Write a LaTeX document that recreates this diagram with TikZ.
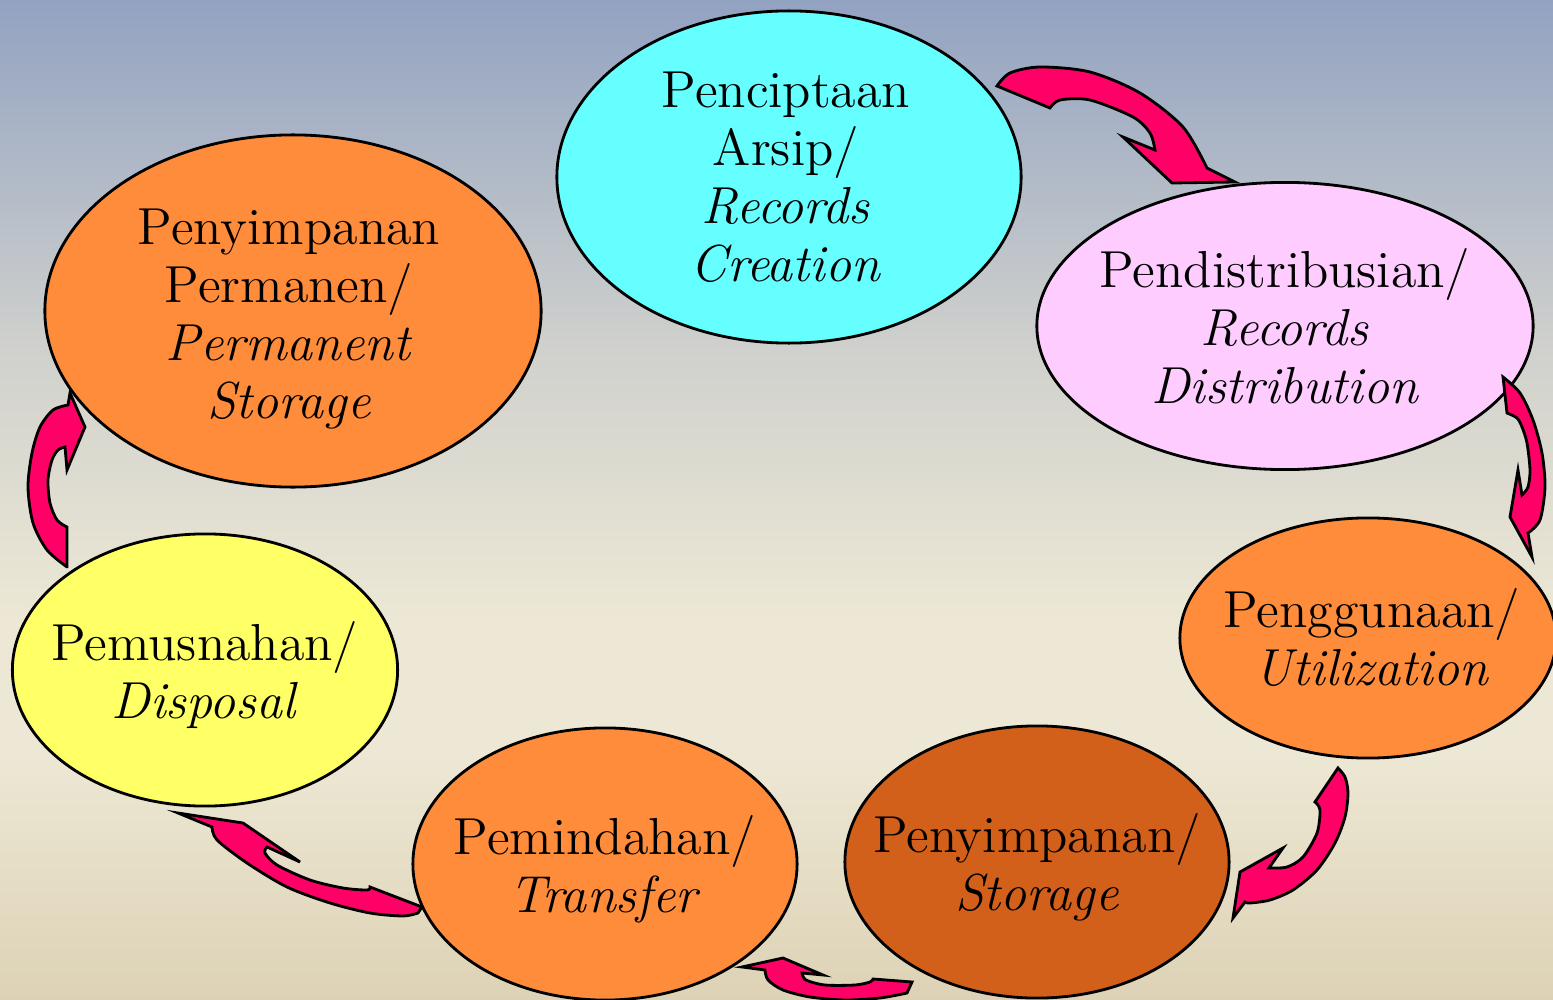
\documentclass[tikz,border=0pt]{standalone}
\usepackage{tikz}
\usetikzlibrary{shapes.geometric}

\definecolor{bgtop}{RGB}{146,162,193}
\definecolor{bgmid}{RGB}{208,209,205}
\definecolor{bglight}{RGB}{237,232,213}
\definecolor{bgbot}{RGB}{221,210,181}
\definecolor{cyanfill}{RGB}{102,255,255}
\definecolor{pinkfill}{RGB}{255,204,255}
\definecolor{orangefill}{RGB}{255,140,58}
\definecolor{darkorange}{RGB}{210,96,26}
\definecolor{yellowfill}{RGB}{255,255,102}
\definecolor{arrowfill}{RGB}{255,0,102}

% the path is mapped onto the 25bp--75bp band of the shading
\pgfdeclareverticalshading{backdrop}{100bp}{%
  color(0bp)=(bgbot); color(25bp)=(bgbot); color(37.5bp)=(bglight);
  color(44bp)=(bglight); color(57.5bp)=(bgmid); color(75bp)=(bgtop);
  color(100bp)=(bgtop)}

\tikzset{
  stage/.style={ellipse, draw=black, line width=0.8pt, inner sep=0pt},
  stagetext/.style={align=center, inner sep=0pt,
    font=\fontsize{14.8}{16.5}\selectfont},
  blockarrow/.style={fill=arrowfill, draw=black, line width=0.8pt, line join=miter}
}

\begin{document}
\begin{tikzpicture}[x=0.01cm, y=-0.01cm]
\useasboundingbox (0,0) rectangle (1553,1000);
\clip (0,0) rectangle (1553,1000);
\shade[shading=backdrop] (0,0) rectangle (1553,1000);

% lifecycle stages
\node[stage, fill=cyanfill, minimum width=4.64cm, minimum height=3.32cm]
  (create) at (789,177) {};
\node[stage, fill=pinkfill, minimum width=4.96cm, minimum height=2.87cm]
  (distrib) at (1285,326) {};
\node[stage, fill=orangefill, minimum width=3.76cm, minimum height=2.40cm]
  (use) at (1368,638) {};
\node[stage, fill=darkorange, minimum width=3.84cm, minimum height=2.72cm]
  (store) at (1037,862) {};
\node[stage, fill=orangefill, minimum width=3.84cm, minimum height=2.72cm]
  (transfer) at (605,864) {};
\node[stage, fill=yellowfill, minimum width=3.85cm, minimum height=2.72cm]
  (dispose) at (205,670) {};
\node[stage, fill=orangefill, minimum width=4.96cm, minimum height=3.52cm]
  (perm) at (293,311) {};

% stage labels
\node[stagetext] (createtext) at (786,177) {Penciptaan\\Arsip/\\\textit{Records}\\\textit{Creation}};
\node[stagetext] (distribtext) at (1285,326) {Pendistribusian/\\\textit{Records}\\\textit{Distribution}};
\node[stagetext] (usetext) at (1372,638) {Penggunaan/\\\textit{Utilization}};
\node[stagetext] (storetext) at (1037,867) {Penyimpanan/\\\textit{Storage}};
\node[stagetext] (transfertext) at (605,869) {Pemindahan/\\\textit{Transfer}};
\node[stagetext] (disposetext) at (205,675) {Pemusnahan/\\\textit{Disposal}};
\node[stagetext] (permtext) at (289,319) {Penyimpanan\\Permanen/\\\textit{Permanent}\\\textit{Storage}};

% curved block arrows between the stages
\filldraw[blockarrow] (997,86)
  -- plot[smooth] coordinates {(997,86)(1010,73)(1040,67)(1090,72)(1140,93)(1183,127)(1207,168)}
  -- (1235,182) -- (1172,183) -- (1123,137) -- (1155,150)
  -- plot[smooth] coordinates {(1155,150)(1150,133)(1133,117)(1090,100)(1060,100)(1050,108)}
  -- cycle;

\filldraw[blockarrow] (1503,377) -- (1507,413)
  -- plot[smooth] coordinates {(1507,413)(1517,418)(1522,427)(1527,443)(1530,470)(1528,487)(1522,495)}
  -- (1518,470) -- (1510,517) -- (1532,557) -- (1528,533)
  -- plot[smooth] coordinates {(1528,533)(1540,520)(1545,487)(1542,453)(1533,420)(1520,393)(1503,377)}
  -- cycle;

\filldraw[blockarrow] (1338,768)
  -- plot[smooth] coordinates {(1338,768)(1345,777)(1348,793)(1345,817)(1335,843)(1317,870)(1293,890)(1270,900)(1250,903)(1245,902)}
  -- (1233,918) -- (1240,872) -- (1283,848) -- (1269,868)
  -- plot[smooth] coordinates {(1269,868)(1287,867)(1303,857)(1317,833)(1320,810)(1315,802)}
  -- cycle;

\filldraw[blockarrow] (912,982) -- (907,993)
  -- plot[smooth] coordinates {(907,993)(880,998)(845,1000)(810,997)(783,990)(768,980)(765,970)}
  -- (742,967) -- (783,958) -- (823,975) -- (802,973)
  -- plot[smooth] coordinates {(802,973)(806,980)(825,985)(855,985)(870,982)(873,979)}
  -- cycle;

\filldraw[blockarrow] (178,813) -- (243,823) -- (300,862) -- (267,847)
  -- plot[smooth] coordinates {(267,847)(265,853)(277,865)(310,880)(343,888)(367,890)(370,887)}
  -- (422,907) -- (418,913)
  -- plot[smooth] coordinates {(418,913)(403,916)(370,913)(330,903)(287,887)(247,863)(217,840)(212,827)}
  -- cycle;

\filldraw[blockarrow] (67,568) -- (67,527)
  -- plot[smooth] coordinates {(67,527)(57,520)(50,503)(48,480)(52,460)(58,450)(65,447)}
  -- (67,470) -- (85,427) -- (70,393) -- (68,405)
  -- plot[smooth] coordinates {(68,405)(53,410)(40,427)(32,453)(28,487)(33,523)(47,550)(67,567)}
  -- cycle;
\end{tikzpicture}
\end{document}
